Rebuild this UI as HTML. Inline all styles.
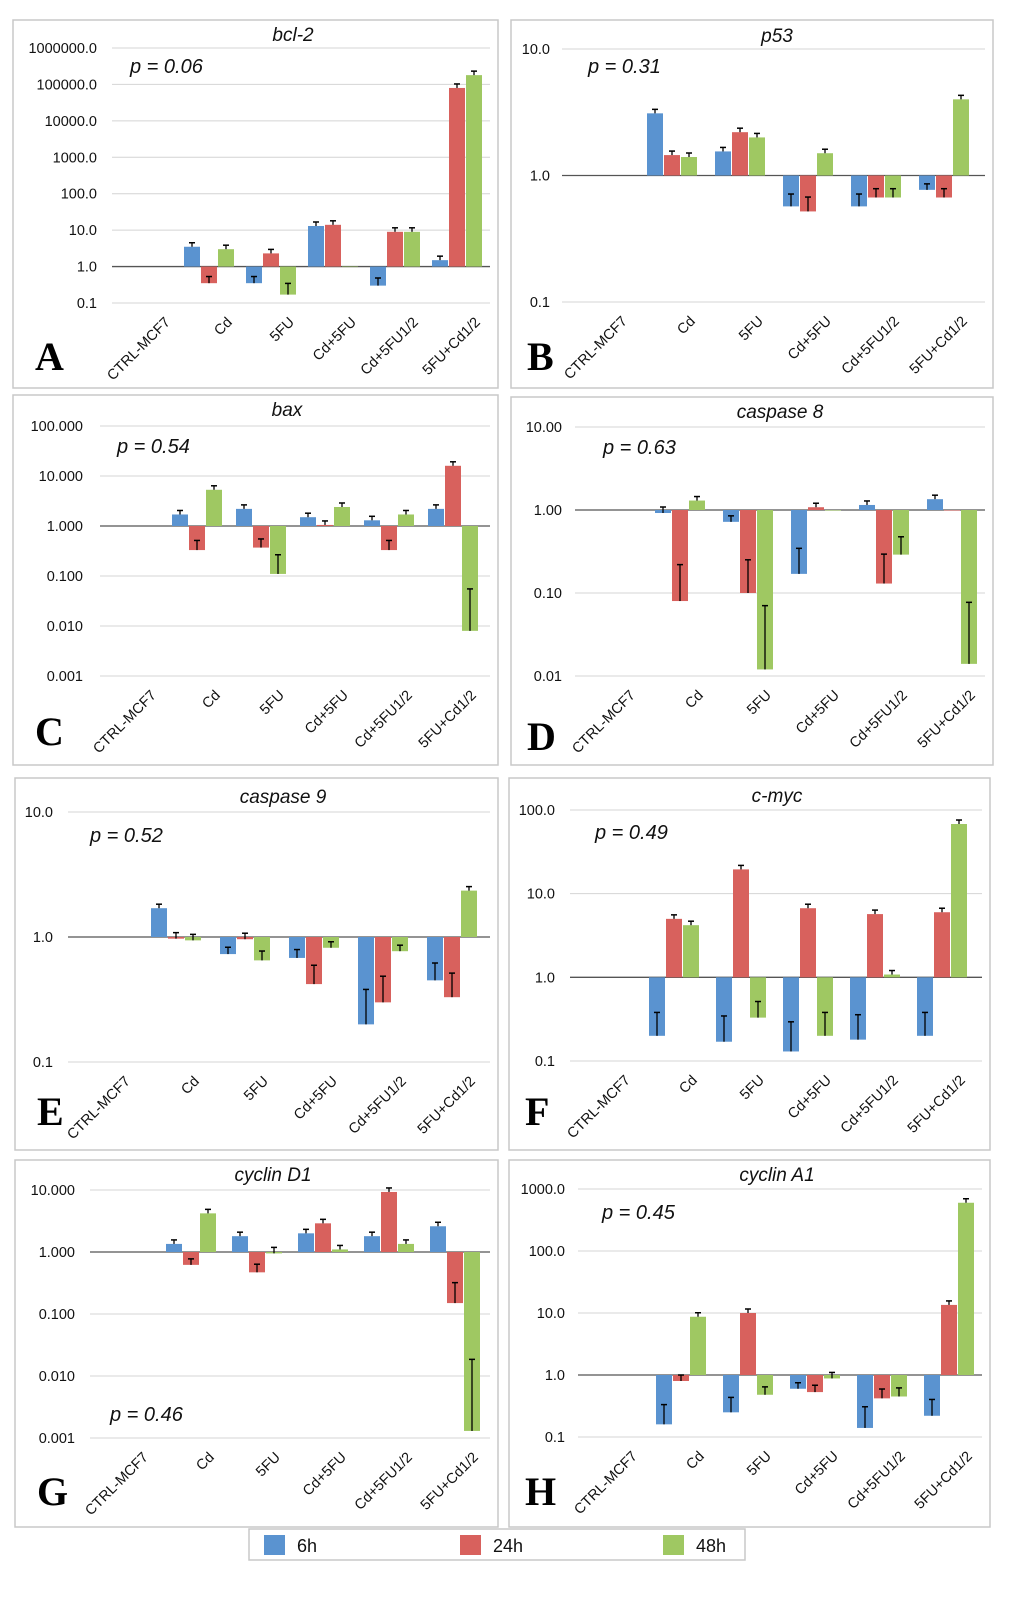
<!DOCTYPE html>
<html><head><meta charset="utf-8"><style>
body{margin:0;background:#fff;}
svg text{font-family:"Liberation Sans",sans-serif;}
svg text.serif{font-family:"Liberation Serif",serif;}
</style></head><body>
<svg id="fig" width="1024" height="1594" viewBox="0 0 1024 1594" xmlns="http://www.w3.org/2000/svg"></svg>
<script>
const categories=["CTRL-MCF7","Cd","5FU","Cd+5FU","Cd+5FU1/2","5FU+Cd1/2"];
const seriesNames=["6h","24h","48h"];
const A6=[1,3.5,0.35,13,0.3,1.5];
const A24=[1,0.35,2.3,14,9,80000];
const A48=[1,3.0,0.17,1,9,180000];
const B6=[1,3.1,1.55,0.57,0.57,0.77];
const B24=[1,1.45,2.2,0.52,0.67,0.67];
const B48=[1,1.4,2.0,1.5,0.67,4.0];
const C6=[1,1.7,2.2,1.5,1.3,2.2];
const C24=[1,0.33,0.37,1.05,0.33,16];
const C48=[1,5.3,0.11,2.4,1.7,0.008];
const D6=[1,0.92,0.72,0.17,1.15,1.35];
const D24=[1,0.08,0.10,1.08,0.13,1];
const D48=[1,1.3,0.012,1,0.29,0.014];
const E6=[1,1.7,0.73,0.68,0.2,0.45];
const E24=[1,0.97,0.96,0.42,0.3,0.33];
const E48=[1,0.94,0.65,0.82,0.77,2.35];
const F6=[1,0.2,0.17,0.13,0.18,0.2];
const F24=[1,5.0,19.5,6.7,5.7,6.0];
const F48=[1,4.2,0.33,0.2,1.08,68];
const G6=[1,1.35,1.8,2.0,1.8,2.6];
const G24=[1,0.62,0.47,2.9,9.3,0.15];
const G48=[1,4.2,0.95,1.1,1.35,0.0013];
const H6=[1,0.16,0.25,0.6,0.14,0.22];
const H24=[1,0.8,10,0.53,0.42,13.5];
const H48=[1,8.7,0.48,0.88,0.45,600];
const titles=["bcl-2","p53","bax","caspase 8","caspase 9","c-myc","cyclin D1","cyclin A1"];
const pvalues=["p = 0.06","p = 0.31","p = 0.54","p = 0.63","p = 0.52","p = 0.49","p = 0.46","p = 0.45"];
const letters=["A","B","C","D","E","F","G","H"];
const colors=["#5a93d0","#d8615d","#9fc862"];
const NS="http://www.w3.org/2000/svg";
const svg=document.getElementById('fig');
function mk(tag,attrs,parent,txt){const e=document.createElementNS(NS,tag);for(const k in attrs)e.setAttribute(k,attrs[k]);if(txt!==undefined)e.textContent=txt;(parent||svg).appendChild(e);return e;}
const panels=[
 {box:[13,20,485,368],labX:97,x0:112,x1:490,yTop:48,yBot:303,lmin:-1,lmax:6,c0:147,sp:62,tp:[293,41],pp:[130,73],lp:[35,370],dec:1,data:[A6,A24,A48]},
 {box:[511,20,482,368],labX:550,x0:562,x1:985,yTop:49,yBot:302,lmin:-1,lmax:1,c0:604,sp:68,tp:[777,42],pp:[588,73],lp:[527,370],dec:1,data:[B6,B24,B48]},
 {box:[13,395,485,370],labX:83,x0:100,x1:490,yTop:426,yBot:676,lmin:-3,lmax:2,c0:133,sp:64,tp:[287,416],pp:[117,453],lp:[35,745],dec:3,data:[C6,C24,C48]},
 {box:[511,397,482,368],labX:562,x0:575,x1:985,yTop:427,yBot:676,lmin:-2,lmax:1,c0:612,sp:68,tp:[780,418],pp:[603,454],lp:[527,750],dec:2,data:[D6,D24,D48]},
 {box:[15,778,483,372],labX:53,x0:68,x1:490,yTop:812,yBot:1062,lmin:-1,lmax:1,c0:107,sp:69,tp:[283,803],pp:[90,842],lp:[37,1125],dec:1,data:[E6,E24,E48]},
 {box:[509,778,481,372],labX:555,x0:570,x1:982,yTop:810,yBot:1061,lmin:-1,lmax:2,c0:607,sp:67,tp:[777,802],pp:[595,839],lp:[525,1125],dec:1,data:[F6,F24,F48]},
 {box:[15,1160,483,367],labX:75,x0:90,x1:490,yTop:1190,yBot:1438,lmin:-3,lmax:1,c0:125,sp:66,tp:[273,1181],pp:[110,1421],lp:[37,1505],dec:3,data:[G6,G24,G48]},
 {box:[509,1160,481,367],labX:565,x0:578,x1:982,yTop:1189,yBot:1437,lmin:-1,lmax:3,c0:614,sp:67,tp:[777,1181],pp:[602,1219],lp:[525,1505],dec:1,data:[H6,H24,H48]}
];
panels.forEach((P,pi)=>{
 const g=mk('g',{});
 
 
 const b=P.box;
 const border=mk('rect',{x:b[0],y:b[1],width:b[2],height:b[3],fill:'#fff',stroke:'#c8c8c8','stroke-width':1.5},g);
 
 
 const y=v=>P.yBot-(Math.log10(v)-P.lmin)/(P.lmax-P.lmin)*(P.yBot-P.yTop);
 const cx=i=>P.c0+i*P.sp;
 for(let d=P.lmin;d<=P.lmax;d++){
  const v=Math.pow(10,d), yy=y(v);
  const gl=mk('line',{x1:P.x0,x2:P.x1,y1:yy,y2:yy,stroke:d===0?'#555':'#d4d4d4','stroke-width':d===0?1.3:1},g);
  
  
  const t=mk('text',{x:P.labX,y:yy+5,'text-anchor':'end','font-size':14.5,fill:'#111'},g,v.toFixed(P.dec));
  
  
 }
 P.data.forEach((arr,s)=>{
  arr.forEach((v,i)=>{
   if(i===0)return;
   const x=cx(i)+(s-1)*17-8, y1=y(1), yv=y(v);
   const top=Math.min(y1,yv), h=Math.abs(y1-yv);
   const r=mk('rect',{x:x,y:top,width:16,height:Math.max(h,0.5),fill:colors[s]},g);
   
   
   if(Math.abs(v-1)<0.02)return;
   let ey;
   if(v>1){ey=yv-4;}else{ey=yv-Math.max(6,h*0.4);}
   const el=mk('line',{x1:x+8,x2:x+8,y1:yv,y2:ey,stroke:'#000','stroke-width':1.3},g);
   
   
   const ec=mk('line',{x1:x+5,x2:x+11,y1:ey,y2:ey,stroke:'#000','stroke-width':1.5},g);
   
   
  });
 });
 categories.forEach((c,i)=>{
  const px=cx(i)+24, py=P.yBot+20;
  const t=mk('text',{x:px,y:py,'text-anchor':'end','font-size':14.5,fill:'#111',transform:`rotate(-45 ${px} ${py})`},g,c);
  
  
 });
 const tt=mk('text',{x:P.tp[0],y:P.tp[1],'text-anchor':'middle','font-size':19,'font-style':'italic',fill:'#111'},g,titles[pi]);
 
 
 const pt=mk('text',{x:P.pp[0],y:P.pp[1],'font-size':20,'font-style':'italic',fill:'#111'},g,pvalues[pi]);
 
 
 const lt=mk('text',{x:P.lp[0],y:P.lp[1],'font-size':40,'font-weight':'bold',fill:'#000','class':'serif'},g,letters[pi]);
 
 
});
const lg=mk('g',{});


const lb=mk('rect',{x:249,y:1529,width:496,height:31,fill:'#fff',stroke:'#c8c8c8','stroke-width':1.5},lg);


const lx=[264,460,663];
seriesNames.forEach((n,s)=>{
 const sw=mk('rect',{x:lx[s],y:1535,width:21,height:20,fill:colors[s]},lg);
 
 
 const t=mk('text',{x:lx[s]+33,y:1552,'font-size':18,fill:'#111'},lg,n);
 
 
});
</script>
</body></html>
